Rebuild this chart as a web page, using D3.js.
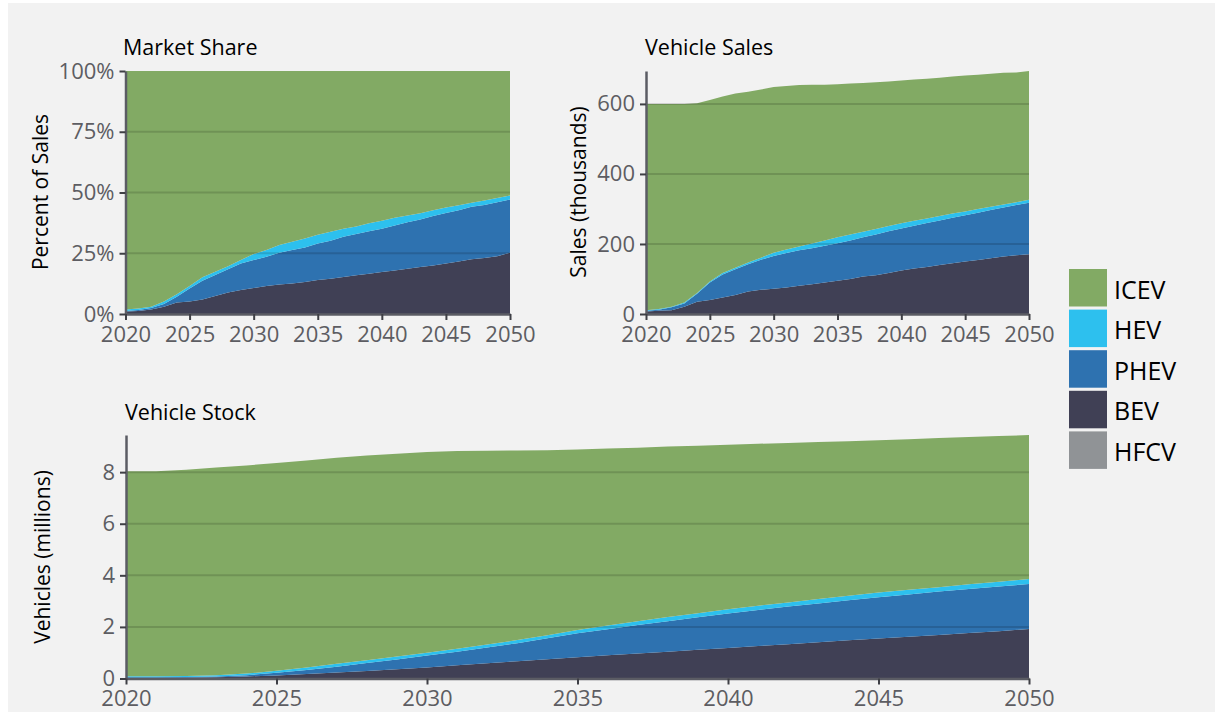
<!DOCTYPE html>
<html>
<head>
<meta charset="utf-8">
<script src="https://cdn.jsdelivr.net/npm/d3@7"></script>
<style>
  body { margin: 0; background: #ffffff; }
  svg { display: block; }
  text { font-family: "Open Sans", "Noto Sans", sans-serif; }
</style>
</head>
<body>
<script>
// ---- Data -------------------------------------------------------------
const years = [2020, 2021, 2022, 2023, 2024, 2025, 2026, 2027, 2028, 2029, 2030,
               2031, 2032, 2033, 2034, 2035, 2036, 2037, 2038, 2039, 2040,
               2041, 2042, 2043, 2044, 2045, 2046, 2047, 2048, 2049, 2050];

const vehicleTypes = ["ICEV", "HEV", "PHEV", "BEV", "HFCV"];   // legend order, top to bottom

// Market share (percent of sales)
const shareBEV  = [1.0, 1.2, 1.9, 3.0, 4.7, 5.1, 6.0, 7.4, 8.8, 9.9, 10.7, 11.5, 12.1, 12.6, 13.2, 14.0,
                   14.5, 15.2, 15.9, 16.6, 17.3, 17.9, 18.6, 19.3, 20.0, 20.8, 21.6, 22.5, 23.0, 23.8, 25.2];
const sharePHEV = [0.2, 0.4, 0.6, 1.1, 2.4, 5.4, 7.7, 8.6, 9.6, 10.9, 11.5, 12.1, 13.1, 13.7, 14.2, 15.0,
                   15.6, 16.6, 17.0, 17.5, 17.8, 18.5, 19.2, 19.6, 20.3, 20.8, 21.1, 21.6, 21.9, 22.2, 21.9];
const shareHEV  = [0.7, 0.7, 0.5, 1.0, 1.0, 1.0, 1.4, 1.4, 1.3, 1.4, 2.5, 2.7, 3.2, 3.4, 3.7, 3.6,
                   3.7, 3.3, 3.1, 3.2, 3.3, 3.2, 2.7, 2.6, 2.4, 2.2, 2.1, 1.7, 1.8, 1.7, 1.7];
const shareHFCV = [0, 0, 0, 0, 0, 0, 0, 0, 0, 0, 0, 0, 0, 0, 0, 0,
                   0, 0, 0, 0, 0, 0, 0, 0, 0, 0, 0, 0, 0, 0, 0];
const shareICEV = [98.1, 97.7, 97.0, 94.9, 91.9, 88.5, 84.9, 82.6, 80.3, 77.8, 75.3, 73.7, 71.6, 70.3, 68.9, 67.4,
                   66.2, 64.9, 64.0, 62.7, 61.6, 60.4, 59.5, 58.5, 57.3, 56.2, 55.2, 54.2, 53.3, 52.3, 51.2];

// Vehicle sales (thousands)
const salesBEV  = [7, 9, 11, 21, 35, 40, 47, 54, 64, 69, 72, 76, 81, 85, 90, 95,
                   100, 107, 111, 117, 124, 130, 134, 140, 145, 150, 154, 159, 164, 168, 171];
const salesPHEV = [2, 3, 8, 9, 23, 50, 66, 74, 78, 86, 94, 98, 101, 103, 105, 107,
                   110, 112, 116, 119, 120, 122, 126, 127, 130, 132, 135, 138, 140, 143, 147];
const salesHEV  = [2, 2, 2, 3, 2, 3, 4, 4, 5, 6, 9, 10, 11, 13, 15, 17,
                   17, 16, 16, 15, 15, 14, 13, 13, 12, 11, 11, 9, 9, 8, 8];
const salesHFCV = [0, 0, 0, 0, 0, 0, 0, 0, 0, 0, 0, 0, 0, 0, 0, 0,
                   0, 0, 0, 0, 0, 0, 0, 0, 0, 0, 0, 0, 0, 0, 0];
const salesICEV = [589, 586, 579, 567, 542, 518, 504, 498, 488, 480, 473, 467, 461, 454, 445, 437,
                   431, 425, 419, 413, 408, 404, 399, 395, 391, 388, 383, 380, 376, 371, 368];

// Vehicle stock (millions)
const stockBEV  = [0.01, 0.02, 0.03, 0.05, 0.08, 0.12, 0.17, 0.23, 0.29, 0.36, 0.43, 0.51, 0.59, 0.67, 0.75, 0.82,
                   0.90, 0.97, 1.04, 1.11, 1.18, 1.26, 1.33, 1.41, 1.48, 1.55, 1.62, 1.69, 1.76, 1.83, 1.92];
const stockPHEV = [0.04, 0.03, 0.03, 0.03, 0.05, 0.10, 0.16, 0.23, 0.31, 0.38, 0.46, 0.53, 0.61, 0.70, 0.81, 0.93,
                   1.01, 1.10, 1.18, 1.26, 1.34, 1.40, 1.46, 1.50, 1.55, 1.60, 1.64, 1.68, 1.71, 1.74, 1.74];
const stockHEV  = [0.04, 0.04, 0.04, 0.05, 0.06, 0.08, 0.10, 0.11, 0.11, 0.11, 0.11, 0.11, 0.12, 0.12, 0.12, 0.13,
                   0.14, 0.15, 0.16, 0.16, 0.16, 0.16, 0.16, 0.17, 0.18, 0.18, 0.18, 0.17, 0.18, 0.18, 0.20];
const stockHFCV = [0, 0, 0, 0, 0, 0, 0, 0, 0, 0, 0, 0, 0, 0, 0, 0,
                   0, 0, 0, 0, 0, 0, 0, 0, 0, 0, 0, 0, 0, 0, 0];
const stockICEV = [7.94, 7.94, 7.99, 8.05, 8.07, 8.05, 8.02, 7.99, 7.94, 7.86, 7.78, 7.67, 7.51, 7.35, 7.17, 7.00,
                   6.87, 6.73, 6.61, 6.49, 6.38, 6.28, 6.18, 6.09, 5.99, 5.91, 5.84, 5.78, 5.71, 5.65, 5.58];

const xTicks      = [2020, 2025, 2030, 2035, 2040, 2045, 2050];
const shareTicks  = [0, 25, 50, 75, 100];
const salesTicks  = [0, 200, 400, 600];
const stockTicks  = [0, 2, 4, 6, 8];

// ---- Styling ----------------------------------------------------------
const colors = { ICEV: "#82aa64", HEV: "#2dc0ee", PHEV: "#2e72b0", BEV: "#404055", HFCV: "#909396" };
const stackOrder = ["HFCV", "BEV", "PHEV", "HEV", "ICEV"];   // bottom to top
const axisColor = "#5b5c64";
const tickTextColor = "#5d5d62";

const W = 1215, H = 721;
const svg = d3.select("body").append("svg").attr("width", W).attr("height", H);

svg.append("rect").attr("x", 8).attr("y", 3).attr("width", W - 8).attr("height", 709)
   .attr("fill", "#f2f2f2");

function buildRows(series) {
  return years.map((yr, i) => {
    const r = { year: yr };
    for (const k of vehicleTypes) r[k] = series[k][i];
    return r;
  });
}

function drawPanel(cfg) {
  const rows = buildRows(cfg.series);
  const stacked = d3.stack().keys(stackOrder)(rows);
  const yMax = cfg.yMax != null ? cfg.yMax
             : d3.max(rows, r => d3.sum(stackOrder, k => r[k]));

  const x = d3.scaleLinear().domain([2020, 2050]).range([cfg.left, cfg.right]);
  const y = d3.scaleLinear().domain([0, yMax]).range([cfg.bottom, cfg.top]);

  const g = svg.append("g");

  const area = d3.area()
    .x(d => x(d.data.year))
    .y0(d => y(d[0]))
    .y1(d => y(d[1]));

  g.selectAll("path.layer").data(stacked).join("path")
    .attr("class", "layer")
    .attr("fill", d => colors[d.key])
    .attr("d", area);

  // horizontal gridlines laid over the filled areas
  g.selectAll("line.grid").data(cfg.gridValues).join("line")
    .attr("class", "grid")
    .attr("x1", cfg.left).attr("x2", cfg.right)
    .attr("y1", d => y(d)).attr("y2", d => y(d))
    .attr("stroke", "rgba(0,0,0,0.14)")
    .attr("stroke-width", 2);

  // y axis
  const yAxis = g.append("g")
    .attr("transform", `translate(${cfg.left},0)`)
    .call(d3.axisLeft(y).tickValues(cfg.yTicks).tickFormat(cfg.yFormat)
      .tickSize(6).tickSizeOuter(0).tickPadding(5));

  // x axis
  const xAxis = g.append("g")
    .attr("transform", `translate(0,${cfg.bottom})`)
    .call(d3.axisBottom(x).tickValues(xTicks).tickFormat(d3.format("d"))
      .tickSize(6).tickSizeOuter(0).tickPadding(6));

  for (const ax of [yAxis, xAxis]) {
    ax.select(".domain").attr("stroke", axisColor).attr("stroke-width", 2.5);
    ax.selectAll(".tick line").attr("stroke", "#3e3f45").attr("stroke-width", 2);
    ax.selectAll(".tick text")
      .attr("fill", tickTextColor)
      .style("font-size", "22px")
      .style("font-family", '"Open Sans", sans-serif');
  }

  // panel title
  svg.append("text")
    .attr("x", cfg.titleX).attr("y", cfg.titleY)
    .attr("fill", "#000")
    .style("font-size", "21.5px")
    .text(cfg.title);

  // y axis title
  svg.append("text")
    .attr("transform", `translate(${cfg.yTitleX},${cfg.yTitleY}) rotate(-90)`)
    .attr("text-anchor", "middle")
    .attr("fill", "#000")
    .style("font-size", "21px")
    .text(cfg.yTitle);
}

drawPanel({
  title: "Market Share", titleX: 123, titleY: 55,
  yTitle: "Percent of Sales", yTitleX: 48, yTitleY: 192,
  left: 125.5, right: 510, top: 71, bottom: 314,
  yMax: 100, yTicks: shareTicks, gridValues: [25, 50, 75],
  yFormat: d => d + "%",
  series: { ICEV: shareICEV, HEV: shareHEV, PHEV: sharePHEV, BEV: shareBEV, HFCV: shareHFCV }
});

drawPanel({
  title: "Vehicle Sales", titleX: 645, titleY: 55,
  yTitle: "Sales (thousands)", yTitleX: 586, yTitleY: 192,
  left: 646, right: 1029, top: 71, bottom: 314,
  yMax: null, yTicks: salesTicks, gridValues: [200, 400, 600],
  yFormat: d3.format("d"),
  series: { ICEV: salesICEV, HEV: salesHEV, PHEV: salesPHEV, BEV: salesBEV, HFCV: salesHFCV }
});

drawPanel({
  title: "Vehicle Stock", titleX: 125, titleY: 420,
  yTitle: "Vehicles (millions)", yTitleX: 50, yTitleY: 557,
  left: 126, right: 1029, top: 435, bottom: 678.5,
  yMax: null, yTicks: stockTicks, gridValues: [2, 4, 6, 8],
  yFormat: d3.format("d"),
  series: { ICEV: stockICEV, HEV: stockHEV, PHEV: stockPHEV, BEV: stockBEV, HFCV: stockHFCV }
});

// ---- Legend -----------------------------------------------------------
const legend = svg.append("g").attr("transform", "translate(1069,269)");
const entry = legend.selectAll("g").data(vehicleTypes).join("g")
  .attr("transform", (d, i) => `translate(0,${i * 40.6})`);
entry.append("rect")
  .attr("width", 38).attr("height", 37.5)
  .attr("fill", d => colors[d]);
entry.append("text")
  .attr("x", 45).attr("y", 29.5)
  .attr("fill", "#000")
  .style("font-size", "25px")
  .text(d => d);
</script>
</body>
</html>
